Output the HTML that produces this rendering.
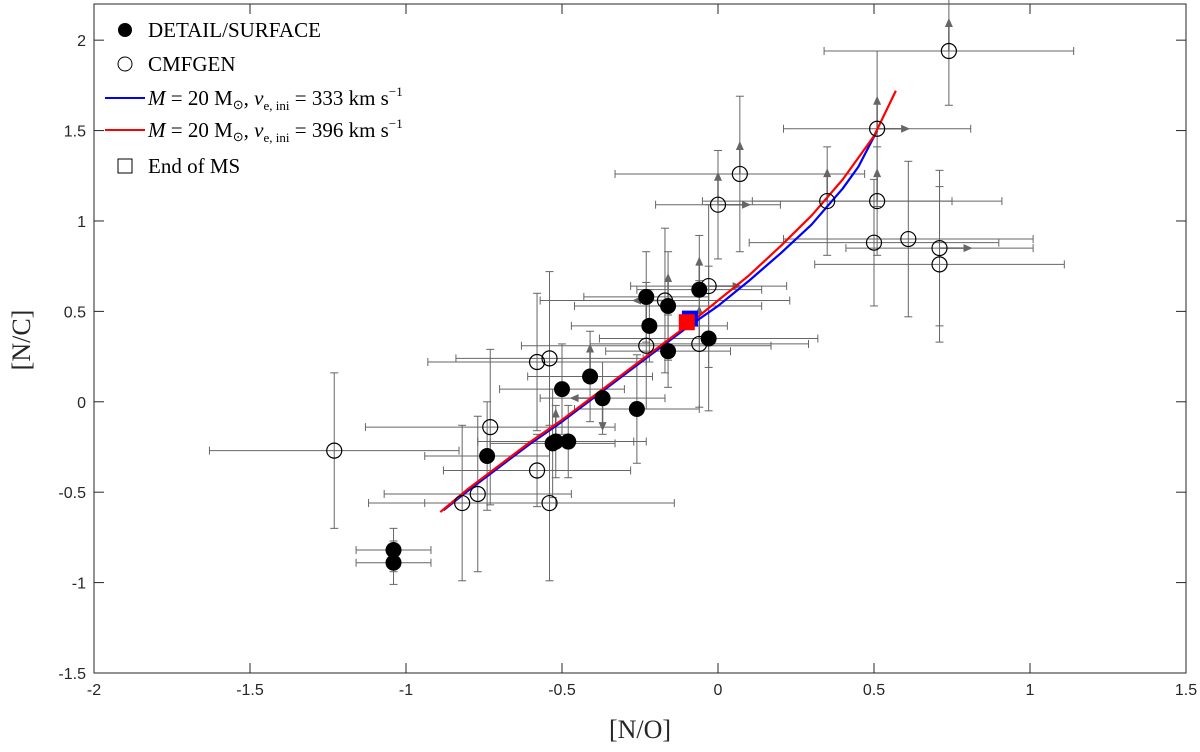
<!DOCTYPE html>
<html><head><meta charset="utf-8"><style>
body{margin:0;background:#fff;}
svg text{font-family:"Liberation Sans",sans-serif;}
.serif{font-family:"Liberation Serif",serif;}
</style></head><body>
<svg id="chart" width="1200" height="747" xmlns="http://www.w3.org/2000/svg">
<g id="grid"></g><g id="marks"></g><g id="legend"></g>
</svg>
<script>
const xTicks=[-2,-1.5,-1,-0.5,0,0.5,1,1.5];
const xTickLabels=["-2","-1.5","-1","-0.5","0","0.5","1","1.5"];
const yTicks=[-1.5,-1,-0.5,0,0.5,1,1.5,2];
const yTickLabels=["-1.5","-1","-0.5","0","0.5","1","1.5","2"];
const detailX=[-1.04,-1.04,-0.74,-0.53,-0.52,-0.48,-0.50,-0.41,-0.37,-0.26,-0.23,-0.22,-0.16,-0.16,-0.06,-0.03];
const detailY=[-0.82,-0.89,-0.30,-0.23,-0.22,-0.22,0.07,0.14,0.02,-0.04,0.58,0.42,0.28,0.53,0.62,0.35];
const detailXErr=[0.12,0.12,0.2,0.2,0.25,0.25,0.2,0.2,0.2,0.2,0.2,0.25,0.2,0.3,0.2,0.35];
const detailYErr=[0.12,0.12,0.3,0.3,0.2,0.2,0.25,0.25,0.2,0.3,0.25,0.2,0.2,0.3,0.3,0.4];
const cmfX=[-1.23,-0.82,-0.77,-0.73,-0.58,-0.58,-0.54,-0.54,-0.23,-0.17,-0.06,-0.03,0.0,0.07,0.35,0.50,0.51,0.51,0.61,0.71,0.71,0.74];
const cmfY=[-0.27,-0.56,-0.51,-0.14,0.22,-0.38,0.24,-0.56,0.31,0.56,0.32,0.64,1.09,1.26,1.11,0.88,1.11,1.51,0.90,0.85,0.76,1.94];
const cmfXErr=[0.4,0.3,0.3,0.4,0.35,0.3,0.3,0.4,0.4,0.4,0.35,0.25,0.2,0.4,0.4,0.4,0.4,0.3,0.4,0.3,0.4,0.4];
const cmfYErr=[0.43,0.43,0.43,0.43,0.38,0.2,0.48,0.43,0.35,0.4,0.35,0.45,0.3,0.43,0.3,0.35,0.3,0.43,0.43,0.43,0.43,0.3];
const arrowX=[0.74,0.51,0.51,0.51,0.0,0.0,0.07,0.35,0.71,-0.17,-0.06,-0.06,-0.23,-0.52,-0.41,-0.37,-0.37,-0.16,-0.03];
const arrowY=[1.94,1.51,1.51,1.11,1.09,1.09,1.26,1.11,0.85,0.56,0.62,0.35,0.58,-0.22,0.14,0.02,0.02,0.53,0.64];
const arrowDir=["up","right","up","up","up","right","up","up","right","left","up","up","down","up","up","left","down","up","right"];
const blueX=[-0.88,-0.8,-0.7,-0.6,-0.5,-0.4,-0.3,-0.2,-0.1,0,0.1,0.2,0.3,0.4,0.45,0.51];
const blueY=[-0.60,-0.49,-0.36,-0.23,-0.11,0.02,0.15,0.28,0.41,0.53,0.67,0.82,0.98,1.18,1.30,1.50];
const redX=[-0.89,-0.8,-0.7,-0.6,-0.5,-0.4,-0.3,-0.2,-0.1,0,0.1,0.2,0.3,0.4,0.5,0.57];
const redY=[-0.61,-0.48,-0.35,-0.22,-0.10,0.03,0.16,0.29,0.42,0.56,0.70,0.86,1.03,1.23,1.47,1.72];
const endMSX=[-0.09,-0.1];
const endMSY=[0.46,0.44];
const endMSColor=["#0000ff","#ff0000"];

const L=94,R=1186,T=4,B=673;
const sx=v=>L+(v+2)/3.5*(R-L);
const sy=v=>B-(v+1.5)/3.7*(B-T);
const NS="http://www.w3.org/2000/svg";
function mk(parent,tag,attrs){const e=document.createElementNS(NS,tag);for(const k in attrs)e.setAttribute(k,attrs[k]);parent.appendChild(e);return e;}
const grid=document.getElementById('grid'),marks=document.getElementById('marks'),leg=document.getElementById('legend');
let box=mk(grid,'rect',{x:L,y:T,width:R-L,height:B-T,fill:'none',stroke:'#262626','stroke-width':1});


xTicks.forEach((t,i)=>{const x=sx(t);
 mk(grid,'line',{x1:x,x2:x,y1:B,y2:B-10,stroke:'#262626'});mk(grid,'line',{x1:x,x2:x,y1:T,y2:T+10,stroke:'#262626'});
 const tx=mk(grid,'text',{x:x,y:B+22,'text-anchor':'middle','font-size':16,fill:'#262626'});tx.textContent=xTickLabels[i];
 
 });
yTicks.forEach((t,i)=>{const y=sy(t);
 mk(grid,'line',{x1:L,x2:L+10,y1:y,y2:y,stroke:'#262626'});mk(grid,'line',{x1:R,x2:R-10,y1:y,y2:y,stroke:'#262626'});
 const tx=mk(grid,'text',{x:L-8,y:y+6,'text-anchor':'end','font-size':16,fill:'#262626'});tx.textContent=yTickLabels[i];
 
 });
let xt=mk(grid,'text',{x:640,y:738,'text-anchor':'middle','font-size':26,'class':'serif',fill:'#262626'});xt.textContent='[N/O]';


let yt=mk(grid,'text',{x:0,y:0,'text-anchor':'middle','font-size':26,'class':'serif',fill:'#262626',transform:'translate(30,340) rotate(-90)'});yt.textContent='[N/C]';


const gray='#666';
function errbar(x,y,ex,ey){const X=sx(x),Y=sy(y),x1=sx(x-ex),x2=sx(x+ex),y1=sy(y-ey),y2=sy(y+ey);
 mk(marks,'line',{x1:x1,x2:x2,y1:Y,y2:Y,stroke:gray});mk(marks,'line',{x1:X,x2:X,y1:y1,y2:y2,stroke:gray});
 [x1,x2].forEach(a=>mk(marks,'line',{x1:a,x2:a,y1:Y-4,y2:Y+4,stroke:gray}));
 [y1,y2].forEach(a=>mk(marks,'line',{x1:X-4,x2:X+4,y1:a,y2:a,stroke:gray}));}
cmfX.forEach((x,i)=>errbar(x,cmfY[i],cmfXErr[i],cmfYErr[i]));
detailX.forEach((x,i)=>errbar(x,detailY[i],detailXErr[i],detailYErr[i]));
arrowX.forEach((x,i)=>{const X=sx(x),Y=sy(arrowY[i]);const d=arrowDir[i];
 const dx=d=='right'?1:d=='left'?-1:0,dy=d=='up'?-1:d=='down'?1:0;
 const ex=X+dx*30,ey=Y+dy*30;
 mk(marks,'line',{x1:X,y1:Y,x2:ex,y2:ey,stroke:gray,'stroke-width':1.5});
 const px=-dy,py=dx;
 const a=mk(marks,'polygon',{points:`${ex+dx*3},${ey+dy*3} ${ex-dx*6+px*4},${ey-dy*6+py*4} ${ex-dx*6-px*4},${ey-dy*6-py*4}`,fill:gray});
 
 });
const line=(xs,ys,c,n)=>{const p=mk(marks,'polyline',{points:xs.map((x,i)=>sx(x)+','+sy(ys[i])).join(' '),fill:'none',stroke:c,'stroke-width':2.2,'stroke-linejoin':'round'});
 
 };
line(blueX,blueY,'#0000ff','track-333');
line(redX,redY,'#ff0000','track-396');
cmfX.forEach((x,i)=>{const c=mk(marks,'circle',{cx:sx(x),cy:sy(cmfY[i]),r:7.5,fill:'none',stroke:'#000','stroke-width':1.2});
 
 });
detailX.forEach((x,i)=>{const c=mk(marks,'circle',{cx:sx(x),cy:sy(detailY[i]),r:8,fill:'#000'});
 
 });
endMSX.forEach((x,i)=>{const s=mk(marks,'rect',{x:sx(x)-8,y:sy(endMSY[i])-8,width:16,height:16,fill:endMSColor[i]});
 
 });
const items=[["fill","DETAIL/SURFACE",30],["open","CMFGEN",64],["blue","",98],["red","",130],["sq","End of MS",166]];
items.forEach(it=>{const y=it[2];let m;
 if(it[0]=="fill")m=mk(leg,'circle',{cx:125,cy:y,r:7,fill:'#000'});
 else if(it[0]=="open")m=mk(leg,'circle',{cx:125,cy:y,r:7,fill:'none',stroke:'#000'});
 else if(it[0]=="sq")m=mk(leg,'rect',{x:118,y:y-7,width:14,height:14,fill:'none',stroke:'#000'});
 else m=mk(leg,'line',{x1:105,x2:145,y1:y,y2:y,stroke:it[0]=="blue"?'#0000ff':'#ff0000','stroke-width':2});
 
 
 const t=mk(leg,'text',{x:148,y:y+7,'font-size':21,'class':'serif',fill:'#000'});
 if(it[1])t.textContent=it[1];
 else t.innerHTML=`<tspan font-style="italic">M</tspan> = 20 M<tspan font-size="13" dy="4">⊙</tspan><tspan dy="-4">, </tspan><tspan font-style="italic">v</tspan><tspan font-size="13" dy="5">e, ini</tspan><tspan dy="-5"> = ${it[0]=="blue"?333:396} km s</tspan><tspan font-size="13" dy="-9">−1</tspan>`;
 
 });
</script>
</body></html>
